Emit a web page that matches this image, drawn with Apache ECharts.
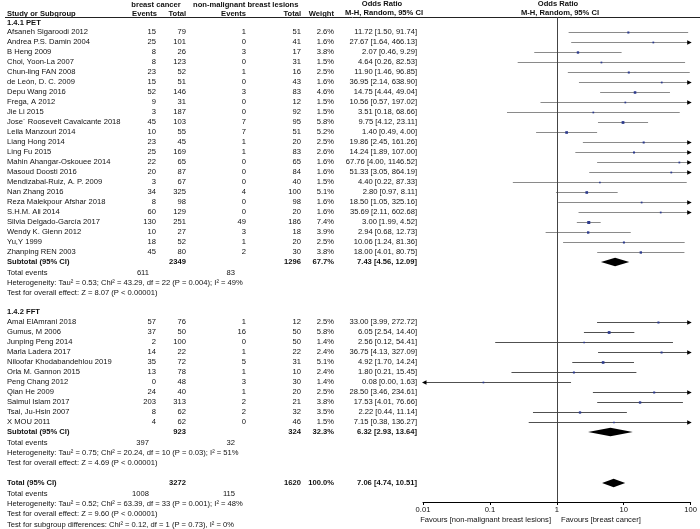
<!DOCTYPE html>
<html><head><meta charset="utf-8">
<script src="https://cdn.jsdelivr.net/npm/echarts@6/dist/echarts.min.js"></script>
<style>html,body{margin:0;padding:0;background:#fff}#c{width:700px;height:529px}</style>
</head><body><div id="c"></div>
<script>
// ---------- DATA ----------
const petNames = ['Afsaneh Sigaroodi 2012','Andrea P.S. Damin 2004','B Heng 2009','Choi, Yoon-La 2007','Chun-ling FAN 2008','de León, D. C. 2009','Depu Wang 2016','Frega, A 2012','Jie Li 2015','Jose´ Roosevelt Cavalcante 2018','Leila Manzouri 2014','Liang Hong 2014','Ling Fu 2015','Mahin Ahangar-Oskouee 2014','Masoud Doosti 2016','Mendizabal-Ruiz, A. P. 2009','Nan Zhang 2016','Reza Malekpour Afshar 2018','S.H.M. Ali 2014','Silvia Delgado-García 2017','Wendy K. Glenn 2012','Yu,Y 1999','Zhanping REN 2003'];
const petBcEvents = [15,25,8,8,23,15,52,9,3,45,10,23,25,22,20,3,34,8,60,130,10,18,45];
const petBcTotal  = [79,101,26,123,52,51,146,31,187,103,55,45,169,65,87,67,325,98,129,251,27,52,80];
const petNmEvents = [1,0,3,0,1,0,3,0,0,7,7,1,1,0,0,0,4,0,0,49,3,1,2];
const petNmTotal  = [51,41,17,31,16,43,83,12,92,95,51,20,83,65,84,40,100,98,20,186,18,20,30];
const petWeight   = [2.6,1.6,3.8,1.5,2.5,1.6,4.6,1.5,1.5,5.8,5.2,2.5,2.6,1.6,1.6,1.5,5.1,1.6,1.6,7.4,3.9,2.5,3.8];
const petOR = [11.72,27.67,2.07,4.64,11.90,36.95,14.75,10.56,3.51,9.75,1.40,19.86,14.24,67.76,51.33,4.40,2.80,18.50,35.69,3.00,2.94,10.06,18.00];
const petLo = [1.50,1.64,0.46,0.26,1.46,2.14,4.44,0.57,0.18,4.12,0.49,2.45,1.89,4.00,3.05,0.22,0.97,1.05,2.11,1.99,0.68,1.24,4.01];
const petHi = [91.74,466.13,9.29,82.53,96.85,638.90,49.04,197.02,68.66,23.11,4.00,161.26,107.00,1146.52,864.19,87.33,8.11,325.16,602.68,4.52,12.73,81.36,80.75];
const petSubtotal = [2349,1296,67.7,7.43,4.56,12.09];
const petTotalEvents = [611,83];
const petHet = 'Heterogeneity: Tau² = 0.53; Chi² = 43.29, df = 22 (P = 0.004); I² = 49%';
const petZ = 'Test for overall effect: Z = 8.07 (P < 0.00001)';

const fftNames = ['Amal ElAmrani 2018','Gumus, M 2006','Junping Peng 2014','Marla Ladera 2017','Niloofar Khodabandehlou 2019','Orla M. Gannon 2015','Peng Chang 2012','Qian He 2009','Saimul Islam 2017','Tsai, Ju-Hsin 2007','X MOU 2011'];
const fftBcEvents = [57,37,2,14,35,13,0,24,203,8,4];
const fftBcTotal  = [76,50,100,22,72,78,48,40,313,62,62];
const fftNmEvents = [1,16,0,1,5,1,3,1,2,2,0];
const fftNmTotal  = [12,50,50,22,31,10,30,20,21,32,46];
const fftWeight   = [2.5,5.8,1.4,2.4,5.1,2.4,1.4,2.5,3.8,3.5,1.5];
const fftOR = [33.00,6.05,2.56,36.75,4.92,1.80,0.08,28.50,17.53,2.22,7.15];
const fftLo = [3.99,2.54,0.12,4.13,1.70,0.21,0.00,3.46,4.01,0.44,0.38];
const fftHi = [272.72,14.40,54.41,327.09,14.24,15.45,1.63,234.61,76.66,11.14,136.27];
const fftSubtotal = [923,324,32.3,6.32,2.93,13.64];
const fftTotalEvents = [397,32];
const fftHet = 'Heterogeneity: Tau² = 0.75; Chi² = 20.24, df = 10 (P = 0.03); I² = 51%';
const fftZ = 'Test for overall effect: Z = 4.69 (P < 0.00001)';

const overall = [3272,1620,100.0,7.06,4.74,10.51];
const overallEvents = [1008,115];
const overallHet = 'Heterogeneity: Tau² = 0.52; Chi² = 63.39, df = 33 (P = 0.001); I² = 48%';
const overallZ = 'Test for overall effect: Z = 9.60 (P < 0.00001)';
const subgroupTest = 'Test for subgroup differences: Chi² = 0.12, df = 1 (P = 0.73), I² = 0%';

const tickLabels = ['0.01','0.1','1','10','100'];

// ---------- LAYOUT ----------
const GRID_TOP = 17, ROW_H = 10, Y_MAX = 48.5;
const yOf = v => GRID_TOP + ROW_H * v;
const FONT = "'Liberation Sans', Arial, sans-serif";
const FS = 7.6;
const TXT = '#111';
const COL = {name:7, be:156, bt:186, ne:246, nt:301, w:334, ci:417, teBc:149, teNm:235};

const petRow0 = 1.5, petSubRow = 24.5;
const fftRow0 = 30.5, fftSubRow = 41.5;
const totalRow = 46.6;

function T(text, x, y, align, bold, size){
  return {type:'text', x:x, y:y, silent:true, style:{
    text:String(text), font:(bold?'bold ':'')+(size||FS)+'px '+FONT, fill:TXT,
    align:align||'left', verticalAlign:'middle', textAlign:align||'left', textVerticalAlign:'middle'}};
}
const ciText = (o,l,h) => o.toFixed(2)+' ['+l.toFixed(2)+', '+h.toFixed(2)+']';

const G = [];
// headers
G.push(T('breast cancer',156,5,'center',true));
G.push(T('non-malignant breast lesions',193,5,'left',true));
G.push(T('Study or Subgroup',7,14,'left',true));
G.push(T('Events',157,14,'right',true));
G.push(T('Total',186,14,'right',true));
G.push(T('Events',246,14,'right',true));
G.push(T('Total',301,14,'right',true));
G.push(T('Weight',334,14,'right',true));
G.push(T('Odds Ratio',382,4,'center',true));
G.push(T('M-H, Random, 95% CI',384,13,'center',true));
G.push(T('Odds Ratio',558,4,'center',true));
G.push(T('M-H, Random, 95% CI',560,13,'center',true));
G.push({type:'line', silent:true, shape:{x1:5,y1:17.5,x2:700,y2:17.5}, style:{stroke:'#222',lineWidth:1}});

function studyRows(names, be, bt, ne, nt, w, o, l, h, row0){
  names.forEach((n,i)=>{
    const y = yOf(row0+i);
    G.push(T(n,COL.name,y,'left'));
    G.push(T(be[i],COL.be,y,'right'));
    G.push(T(bt[i],COL.bt,y,'right'));
    G.push(T(ne[i],COL.ne,y,'right'));
    G.push(T(nt[i],COL.nt,y,'right'));
    G.push(T(w[i].toFixed(1)+'%',COL.w,y,'right'));
    G.push(T(ciText(o[i],l[i],h[i]),COL.ci,y,'right'));
  });
}
function subRows(label, sub, ev, het, z, row, evRow){
  const y = yOf(row);
  G.push(T(label,COL.name,y,'left',true));
  G.push(T(sub[0],COL.bt,y,'right',true));
  G.push(T(sub[1],COL.nt,y,'right',true));
  G.push(T(sub[2].toFixed(1)+'%',COL.w,y,'right',true));
  G.push(T(ciText(sub[3],sub[4],sub[5]),COL.ci,y,'right',true));
  const y2 = yOf(evRow);
  G.push(T('Total events',COL.name,y2,'left'));
  G.push(T(ev[0],COL.teBc,y2,'right'));
  G.push(T(ev[1],COL.teNm,y2,'right'));
  G.push(T(het,COL.name,yOf(evRow+1),'left'));
  G.push(T(z,COL.name,yOf(evRow+2),'left'));
}
G.push(T('1.4.1 PET',COL.name,yOf(0.6),'left',true));
studyRows(petNames,petBcEvents,petBcTotal,petNmEvents,petNmTotal,petWeight,petOR,petLo,petHi,petRow0);
subRows('Subtotal (95% CI)',petSubtotal,petTotalEvents,petHet,petZ,petSubRow,25.6);
G.push(T('1.4.2 FFT',COL.name,yOf(29.5),'left',true));
studyRows(fftNames,fftBcEvents,fftBcTotal,fftNmEvents,fftNmTotal,fftWeight,fftOR,fftLo,fftHi,fftRow0);
subRows('Subtotal (95% CI)',fftSubtotal,fftTotalEvents,fftHet,fftZ,fftSubRow,42.6);
subRows('Total (95% CI)',overall,overallEvents,overallHet,overallZ,totalRow,47.7);
G.push(T(subgroupTest,COL.name,yOf(50.8),'left'));
G.push(T('Favours [non-malignant breast lesions]',551,520,'right'));
G.push(T('Favours [breast cancer]',561,520,'left'));

// ---------- SERIES DATA ----------
const studyData = [];
petOR.forEach((o,i)=>studyData.push([o,petLo[i],petHi[i],petWeight[i],petRow0+i,0]));
fftOR.forEach((o,i)=>studyData.push([o,fftLo[i],fftHi[i],fftWeight[i],fftRow0+i,1]));
const diamondData = [
  [petSubtotal[3],petSubtotal[4],petSubtotal[5],petSubRow],
  [fftSubtotal[3],fftSubtotal[4],fftSubtotal[5],fftSubRow],
  [overall[3],overall[4],overall[5],totalRow]
];
const XMIN = 0.01, XMAX = 100;

function renderStudy(params, api){
  const o=api.value(0), lo=api.value(1), hi=api.value(2), w=api.value(3), row=api.value(4), grp=api.value(5);
  const y = Math.round(api.coord([1,row])[1]) + 0.5;
  const x0 = api.coord([Math.max(lo,XMIN),row])[0];
  const x1 = api.coord([Math.min(hi,XMAX),row])[0];
  const xc = api.coord([o,row])[0];
  const col = grp===0 ? '#8a8a8a' : '#505050';
  const ch = [{type:'line', shape:{x1:x0,y1:y,x2:x1,y2:y}, style:{stroke:col,lineWidth:1}}];
  const s = 0.9*Math.sqrt(w)+0.6;
  ch.push({type:'rect', shape:{x:xc-s/2,y:y-s/2,width:s,height:s}, style:{fill:'#2c3a8c'}});
  if (hi > XMAX) ch.push({type:'polygon', shape:{points:[[x1+1,y],[x1-3.5,y-2.3],[x1-3.5,y+2.3]]}, style:{fill:'#000'}});
  if (lo < XMIN) ch.push({type:'polygon', shape:{points:[[x0-1,y],[x0+3.5,y-2.3],[x0+3.5,y+2.3]]}, style:{fill:'#000'}});
  return {type:'group', children:ch};
}
function renderDiamond(params, api){
  const row = api.value(3);
  const y = api.coord([1,row])[1];
  const xl = api.coord([api.value(1),row])[0];
  const xr = api.coord([api.value(2),row])[0];
  const xc = api.coord([api.value(0),row])[0];
  return {type:'polygon', shape:{points:[[xl,y],[xc,y-4.3],[xr,y],[xc,y+4.3]]}, style:{fill:'#000'}};
}

const chart = echarts.init(document.getElementById('c'), null, {renderer:'canvas'});
chart.setOption({
  animation:false,
  backgroundColor:'#fff',
  grid:{left:423, right:8, top:GRID_TOP, bottom:27, containLabel:false},
  xAxis:{type:'log', logBase:10, min:XMIN, max:XMAX, position:'bottom',
    axisLine:{show:true, onZero:false, lineStyle:{color:'#000',width:1}},
    axisTick:{show:true,length:3,lineStyle:{color:'#000'}},
    axisLabel:{color:TXT, fontSize:FS, fontFamily:FONT, margin:4,
      formatter:v=>tickLabels[Math.round(Math.log10(v))+2]},
    splitLine:{show:false}},
  yAxis:{type:'value', min:0, max:Y_MAX, inverse:true, show:false},
  series:[
    {type:'custom', renderItem:renderStudy, data:studyData, encode:{x:0,y:4}, clip:false, z:3,
     markLine:{silent:true, symbol:'none', label:{show:false},
       lineStyle:{color:'#444',width:1,type:'solid'}, data:[{xAxis:1}]}},
    {type:'custom', renderItem:renderDiamond, data:diamondData, encode:{x:0,y:3}, clip:false, z:4}
  ],
  graphic:G
});
</script></body></html>
